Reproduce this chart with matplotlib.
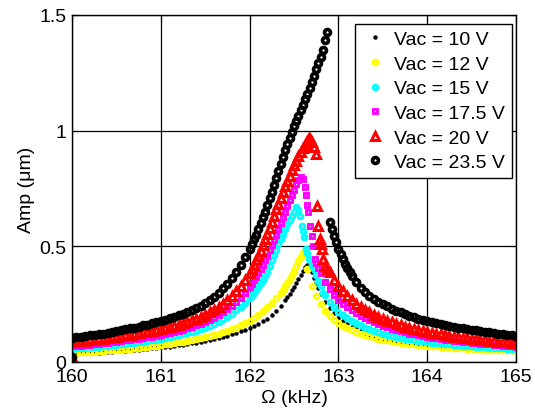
import numpy as np
import matplotlib
matplotlib.use('Agg')
import matplotlib.pyplot as plt

plt.rcParams['font.family'] = ['Liberation Sans', 'DejaVu Sans']

# frequency sweep (kHz), one sample every 0.05 kHz
freq = np.round(np.arange(160.0, 165.0001, 0.05), 3)

labels = ['Vac = 10 V', 'Vac = 12 V', 'Vac = 15 V', 'Vac = 17.5 V', 'Vac = 20 V', 'Vac = 23.5 V']

# first sample of every sweep (at 160 kHz)
start_amp = [0.02, 0.02, 0.02, 0.02, 0.02, 0.02]

a10 = [0.035, 0.036, 0.037, 0.038, 0.039, 0.040, 0.041, 0.042, 0.043, 0.045,
       0.046, 0.047, 0.049, 0.050, 0.052, 0.053, 0.055, 0.057, 0.059, 0.061,
       0.063, 0.065, 0.067, 0.070, 0.072, 0.075, 0.078, 0.081, 0.084, 0.087,
       0.091, 0.095, 0.099, 0.103, 0.108, 0.113, 0.119, 0.125, 0.132, 0.140,
       0.148, 0.157, 0.166, 0.176, 0.187, 0.202, 0.220, 0.242, 0.268, 0.295,
       0.325, 0.360, 0.395, 0.420, 0.390, 0.340, 0.295, 0.260, 0.232, 0.210,
       0.192, 0.176, 0.163, 0.151, 0.141, 0.132, 0.124, 0.117, 0.111, 0.106,
       0.101, 0.096, 0.092, 0.088, 0.085, 0.082, 0.079, 0.077, 0.075, 0.073,
       0.071, 0.069, 0.067, 0.066, 0.064, 0.063, 0.062, 0.060, 0.059, 0.058,
       0.057, 0.056, 0.055, 0.054, 0.053, 0.052, 0.052, 0.051, 0.050, 0.050,
       0.049]

a12 = [0.040, 0.041, 0.042, 0.043, 0.044, 0.045, 0.047, 0.048, 0.050, 0.051,
       0.053, 0.054, 0.056, 0.058, 0.060, 0.062, 0.064, 0.066, 0.068, 0.071,
       0.073, 0.076, 0.079, 0.082, 0.085, 0.088, 0.091, 0.095, 0.099, 0.103,
       0.107, 0.112, 0.117, 0.122, 0.128, 0.134, 0.141, 0.149, 0.158, 0.168,
       0.179, 0.191, 0.205, 0.220, 0.237, 0.256, 0.277, 0.300, 0.327, 0.360,
       0.395, 0.435, 0.470, 0.400, 0.330, 0.285, 0.250, 0.222, 0.200, 0.183,
       0.169, 0.157, 0.147, 0.138, 0.130, 0.123, 0.117, 0.111, 0.106, 0.101,
       0.097, 0.093, 0.090, 0.087, 0.084, 0.081, 0.079, 0.077, 0.075, 0.073,
       0.071, 0.069, 0.068, 0.066, 0.065, 0.063, 0.062, 0.061, 0.060, 0.058,
       0.057, 0.056, 0.055, 0.054, 0.053, 0.053, 0.052, 0.051, 0.050, 0.050,
       0.049]

a15 = [0.058, 0.059, 0.060, 0.062, 0.063, 0.065, 0.067, 0.068, 0.070, 0.072,
       0.074, 0.076, 0.078, 0.080, 0.083, 0.085, 0.088, 0.090, 0.093, 0.096,
       0.100, 0.103, 0.107, 0.111, 0.115, 0.120, 0.125, 0.130, 0.136, 0.142,
       0.149, 0.157, 0.165, 0.174, 0.184, 0.196, 0.209, 0.223, 0.239, 0.257,
       0.277, 0.300, 0.326, 0.355, 0.390, 0.440, 0.485, 0.530, 0.575, 0.615,
       0.650, 0.655, 0.565, 0.470, 0.420, 0.375, 0.330, 0.290, 0.260, 0.237,
       0.218, 0.203, 0.190, 0.178, 0.167, 0.158, 0.149, 0.142, 0.135, 0.129,
       0.123, 0.118, 0.113, 0.109, 0.105, 0.101, 0.098, 0.095, 0.092, 0.089,
       0.087, 0.084, 0.082, 0.080, 0.078, 0.076, 0.074, 0.072, 0.071, 0.069,
       0.068, 0.066, 0.065, 0.064, 0.062, 0.061, 0.060, 0.059, 0.058, 0.057,
       0.056]

a175 = [0.068, 0.070, 0.071, 0.073, 0.075, 0.077, 0.079, 0.081, 0.083, 0.085,
        0.088, 0.090, 0.093, 0.095, 0.098, 0.101, 0.104, 0.107, 0.110, 0.114,
        0.118, 0.122, 0.126, 0.130, 0.135, 0.140, 0.146, 0.152, 0.158, 0.165,
        0.173, 0.182, 0.191, 0.202, 0.214, 0.227, 0.242, 0.259, 0.278, 0.300,
        0.325, 0.353, 0.385, 0.420, 0.460, 0.505, 0.550, 0.600, 0.650, 0.700,
        0.745, 0.785, 0.790, 0.680, 0.545, 0.430, 0.385, 0.345, 0.315, 0.290,
        0.270, 0.252, 0.237, 0.223, 0.211, 0.200, 0.190, 0.181, 0.172, 0.164,
        0.157, 0.150, 0.144, 0.138, 0.133, 0.128, 0.123, 0.119, 0.115, 0.111,
        0.108, 0.105, 0.102, 0.099, 0.096, 0.094, 0.091, 0.089, 0.087, 0.085,
        0.083, 0.081, 0.079, 0.077, 0.076, 0.074, 0.073, 0.071, 0.070, 0.068,
        0.067]

a20 = [0.085, 0.087, 0.089, 0.091, 0.093, 0.096, 0.098, 0.100, 0.103, 0.106,
       0.109, 0.112, 0.115, 0.118, 0.121, 0.124, 0.128, 0.131, 0.135, 0.139,
       0.143, 0.147, 0.152, 0.157, 0.162, 0.168, 0.174, 0.181, 0.188, 0.196,
       0.205, 0.215, 0.226, 0.238, 0.252, 0.268, 0.286, 0.306, 0.329, 0.355,
       0.385, 0.420, 0.460, 0.505, 0.555, 0.605, 0.660, 0.710, 0.760, 0.805,
       0.850, 0.890, 0.925, 0.955, 0.950, 0.900, 0.510, 0.415, 0.390, 0.355,
       0.330, 0.305, 0.285, 0.268, 0.252, 0.238, 0.226, 0.215, 0.205, 0.196,
       0.187, 0.179, 0.172, 0.165, 0.159, 0.153, 0.148, 0.143, 0.138, 0.134,
       0.130, 0.126, 0.122, 0.119, 0.116, 0.113, 0.110, 0.107, 0.105, 0.102,
       0.100, 0.098, 0.096, 0.094, 0.092, 0.090, 0.088, 0.086, 0.085, 0.083,
       0.082]

a235 = [0.105, 0.108, 0.110, 0.112, 0.115, 0.118, 0.120, 0.123, 0.126, 0.130,
        0.133, 0.137, 0.141, 0.145, 0.149, 0.153, 0.158, 0.162, 0.167, 0.172,
        0.177, 0.183, 0.189, 0.195, 0.202, 0.209, 0.217, 0.225, 0.234, 0.244,
        0.255, 0.268, 0.283, 0.300, 0.318, 0.338, 0.362, 0.390, 0.420, 0.455,
        0.490, 0.530, 0.575, 0.625, 0.680, 0.735, 0.795, 0.855, 0.915, 0.970,
        1.020, 1.065, 1.110, 1.160, 1.210, 1.265, 1.320, 1.390, 0.605, 0.545,
        0.490, 0.445, 0.405, 0.372, 0.345, 0.322, 0.303, 0.287, 0.273, 0.261,
        0.250, 0.240, 0.231, 0.222, 0.214, 0.207, 0.200, 0.194, 0.188, 0.183,
        0.178, 0.173, 0.168, 0.164, 0.160, 0.156, 0.152, 0.149, 0.146, 0.143,
        0.140, 0.137, 0.134, 0.131, 0.128, 0.125, 0.122, 0.120, 0.117, 0.115,
        0.113]

# extra samples around the resonance (steep part and the jump down)
pk_f10 = [162.425, 162.475, 162.525, 162.575, 162.625, 162.675, 162.725, 162.775]
pk_a10 = [0.281, 0.310, 0.342, 0.378, 0.410, 0.415, 0.365, 0.318]

pk_f12 = [162.375, 162.425, 162.475, 162.525, 162.575, 162.62]
pk_a12 = [0.313, 0.343, 0.377, 0.415, 0.455, 0.478]

pk_f15 = [162.025, 162.075, 162.125, 162.175, 162.225, 162.275, 162.325, 162.375, 162.425, 162.475,
          162.52, 162.57, 162.59, 162.61, 162.64, 162.67, 162.725, 162.775, 162.83]
pk_a15 = [0.288, 0.313, 0.340, 0.372, 0.415, 0.462, 0.508, 0.553, 0.596, 0.633,
          0.670, 0.630, 0.590, 0.540, 0.490, 0.445, 0.400, 0.352, 0.300]

pk_f175 = [162.025, 162.075, 162.125, 162.175, 162.225, 162.275, 162.325, 162.375, 162.425, 162.475,
           162.525, 162.575, 162.62, 162.64, 162.66, 162.68, 162.715, 162.74, 162.775]
pk_a175 = [0.339, 0.369, 0.402, 0.440, 0.482, 0.527, 0.575, 0.625, 0.675, 0.723,
           0.768, 0.800, 0.755, 0.720, 0.650, 0.590, 0.500, 0.445, 0.405]

pk_f20 = [162.025, 162.075, 162.125, 162.175, 162.225, 162.275, 162.325, 162.375, 162.425, 162.475,
          162.525, 162.575, 162.625, 162.665, 162.685, 162.72, 162.76, 162.77, 162.79, 162.815,
          162.83, 162.875]
pk_a20 = [0.400, 0.440, 0.480, 0.530, 0.580, 0.632, 0.685, 0.735, 0.783, 0.828,
          0.870, 0.908, 0.940, 0.968, 0.965, 0.930, 0.675, 0.590, 0.530, 0.490,
          0.445, 0.400]

pk_f235 = [162.025, 162.075, 162.125, 162.175, 162.225, 162.275, 162.325, 162.375, 162.425, 162.475,
           162.525, 162.575, 162.625, 162.675, 162.725, 162.775, 162.825, 162.875, 162.925, 162.975,
           163.025, 163.075, 163.125]
pk_a235 = [0.510, 0.550, 0.600, 0.650, 0.708, 0.765, 0.825, 0.885, 0.943, 0.995,
           1.043, 1.088, 1.135, 1.185, 1.238, 1.292, 1.350, 1.425, 0.575, 0.517,
           0.467, 0.425, 0.388]

series = [(a10, pk_f10, pk_a10), (a12, pk_f12, pk_a12), (a15, pk_f15, pk_a15),
          (a175, pk_f175, pk_a175), (a20, pk_f20, pk_a20), (a235, pk_f235, pk_a235)]

styles = [
    dict(marker='o', color='k', ms=3.2, mew=0),
    dict(marker='o', color='none', mec=(1, 1, 0), ms=3.3, mew=2.2),
    dict(marker='o', color='none', mec=(0, 1, 1), ms=3.3, mew=2.2),
    dict(marker='s', color='none', mec=(1, 0, 1), ms=3.4, mew=2.1),
    dict(marker='^', color='none', mec=(1, 0, 0), ms=5.6, mew=2.2),
    dict(marker='o', color='none', mec='k', ms=4.3, mew=2.6),
]

fig = plt.figure(figsize=(5.35, 4.10), dpi=100)
ax = fig.add_axes([72/535, 47/410, 444/535, 347/410])

for (amp, pf, pa), st, lab, a0 in zip(series, styles, labels, start_amp):
    f_all = np.concatenate([[160.0], freq, pf])
    a_all = np.concatenate([[a0], amp, pa])
    ax.plot(f_all, a_all, linestyle='none', label=lab, **st)

ax.set_xlim(160, 165)
ax.set_ylim(0, 1.5)
ax.set_xticks([160, 161, 162, 163, 164, 165])
ax.set_yticks([0, 0.5, 1, 1.5])
ax.set_yticklabels(['0', '0.5', '1', '1.5'])
ax.grid(True, color='k', linestyle='-', linewidth=0.9)
ax.set_axisbelow(True)
ax.tick_params(direction='in', length=4, labelsize=14, pad=4, top=True, right=True)
for sp in ax.spines.values():
    sp.set_linewidth(1.0)

ax.set_xlabel('Ω (kHz)', fontsize=14, labelpad=3)
ax.set_ylabel('Amp (μm)', fontsize=14, labelpad=3)

leg = ax.legend(loc='upper right', bbox_to_anchor=(0.991, 0.975), numpoints=1,
                fontsize=14, frameon=True, fancybox=False, framealpha=1,
                edgecolor='k', borderaxespad=0, handlelength=1.3,
                handletextpad=0.35, labelspacing=0.36, borderpad=0.35)
leg.get_frame().set_linewidth(1.0)

fig.savefig('out.png', dpi=100)
